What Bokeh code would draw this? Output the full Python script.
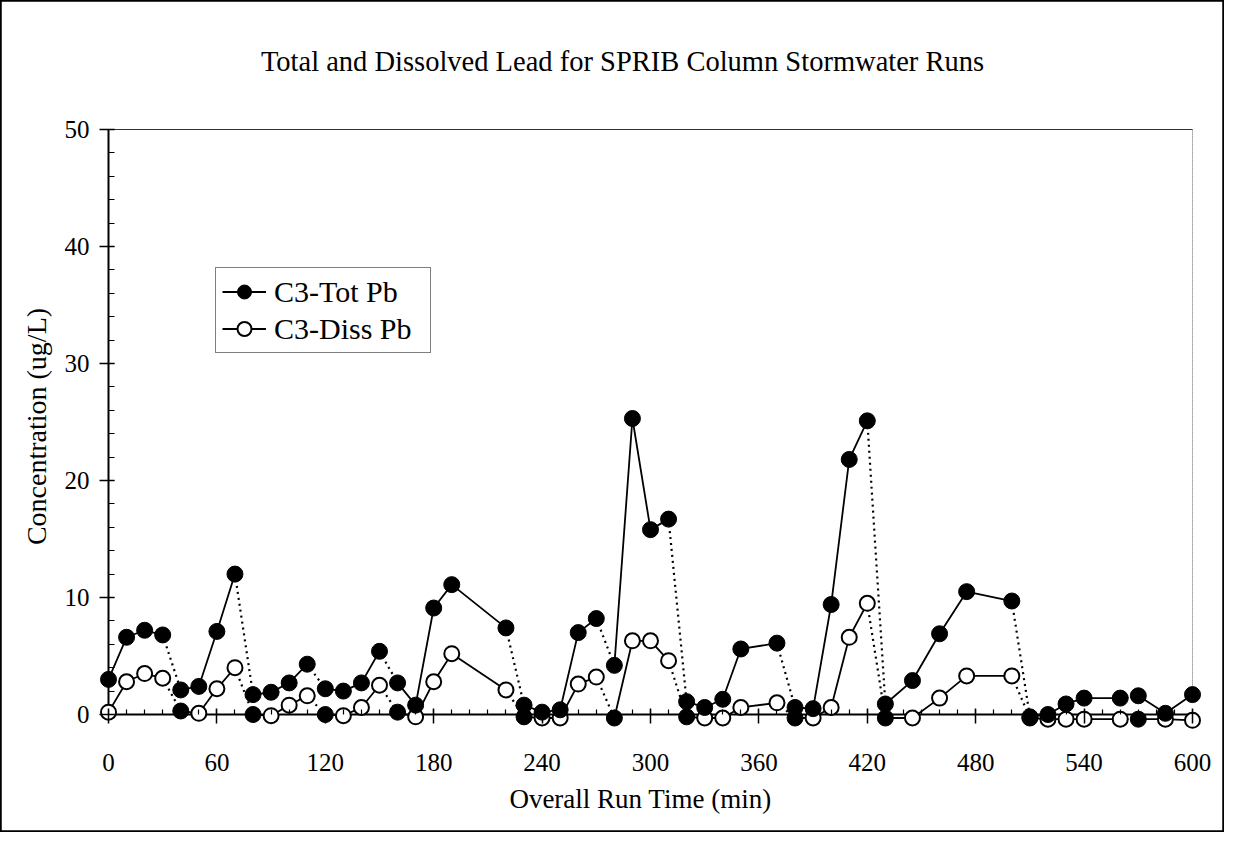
import math
from bokeh.plotting import figure
from bokeh.models import Range1d, FixedTicker, Label, Legend, LegendItem
from bokeh.embed import file_html
from bokeh.resources import INLINE

# ---------------- data ----------------
time_min = [0, 10, 20, 30,
            40, 50, 60, 70,
            80, 90, 100, 110,
            120, 130, 140, 150,
            160, 170, 180, 190, 220,
            230, 240, 250, 260, 270,
            280, 290, 300, 310,
            320, 330, 340, 350, 370,
            380, 390, 400, 410, 420,
            430, 445, 460, 475, 500,
            510, 520, 530, 540, 560,
            570, 585, 600]
run_id = [1] * 4 + [2] * 4 + [3] * 4 + [4] * 4 + [5] * 5 + [6] * 5 + \
         [7] * 4 + [8] * 5 + [9] * 5 + [10] * 5 + [11] * 5 + [12] * 3
tot_pb = [3.0, 6.6, 7.2, 6.8,
          2.1, 2.4, 7.1, 12.0,
          1.7, 1.9, 2.7, 4.3,
          2.2, 2.0, 2.7, 5.4,
          2.7, 0.8, 9.1, 11.1, 7.4,
          0.8, 0.2, 0.4, 7.0, 8.2,
          4.2, 25.3, 15.8, 16.7,
          1.1, 0.6, 1.3, 5.6, 6.1,
          0.6, 0.5, 9.4, 21.8, 25.1,
          0.9, 2.9, 6.9, 10.5, 9.7,
          -0.2, 0.0, 0.9, 1.4, 1.4,
          1.6, 0.1, 1.7]
diss_pb = [0.2, 2.8, 3.5, 3.1,
           0.3, 0.1, 2.2, 4.0,
           0.0, -0.1, 0.8, 1.6,
           0.0, -0.1, 0.6, 2.5,
           0.2, -0.2, 2.8, 5.2, 2.1,
           -0.2, -0.3, -0.3, 2.6, 3.2,
           -0.3, 6.3, 6.3, 4.6,
           -0.2, -0.3, -0.3, 0.6, 1.0,
           -0.3, -0.3, 0.6, 6.6, 9.5,
           -0.3, -0.3, 1.4, 3.3, 3.3,
           -0.3, -0.4, -0.4, -0.4, -0.4,
           -0.4, -0.4, -0.5]
x_ticks = [0, 60, 120, 180, 240, 300, 360, 420, 480, 540, 600]
x_minor = list(range(0, 601, 10))
y_ticks = [0, 10, 20, 30, 40, 50]
y_minor = list(range(0, 51, 2))

title_text = "Total and Dissolved Lead for SPRIB Column Stormwater Runs"
x_title = "Overall Run Time (min)"
y_title = "Concentration (ug/L)"
series_names = ["C3-Tot Pb", "C3-Diss Pb"]

# ---------------- layout ----------------
W, H = 1224, 832
FONT = "Liberation Serif"
x0_px, x1_px = 108.0, 1192.0     # canvas px of x=0 and x=600
y0_px, y1_px = 714.0, 129.0      # canvas px (from top) of y=0 and y=50
sx = (x1_px - x0_px) / (x_ticks[-1] - x_ticks[0])
sy = (y0_px - y1_px) / (y_ticks[-1] - y_ticks[0])
x_start = x_ticks[0] - x0_px / sx
x_end = x_ticks[-1] + (W - x1_px) / sx
y_end = y_ticks[-1] + y1_px / sy
y_start = y_ticks[0] - (H - y0_px) / sy

p = figure(width=W, height=H, x_range=Range1d(x_start, x_end),
           y_range=Range1d(y_start, y_end), output_backend="svg",
           toolbar_location=None, min_border=0)
p.grid.visible = False
p.outline_line_color = "black"
p.outline_line_width = 2.5
p.background_fill_color = "white"
p.border_fill_color = "white"

# axes fixed at zero
xa = p.xaxis[0]
ya = p.yaxis[0]
xa.fixed_location = 0
ya.fixed_location = 0
xa.ticker = FixedTicker(ticks=x_ticks, minor_ticks=x_minor)
ya.ticker = FixedTicker(ticks=y_ticks, minor_ticks=y_minor)
for ax in (xa, ya):
    ax.axis_line_color = None
    ax.major_tick_line_color = "black"
    ax.major_tick_line_width = 1.5
    ax.minor_tick_line_color = "black"
    ax.minor_tick_line_width = 1.2
    ax.major_label_text_font = FONT
    ax.major_label_text_font_size = "25px"
    ax.major_label_text_color = "black"
xa.major_tick_in = 6
xa.major_tick_out = 9
xa.minor_tick_in = 5
xa.minor_tick_out = 0
xa.major_label_standoff = 30
ya.major_tick_in = 6
ya.major_tick_out = 9
ya.minor_tick_in = 6
ya.minor_tick_out = 0
ya.major_label_standoff = 10

# axis lines / plot-area borders
p.segment(x0=[x_ticks[0]], y0=[y_ticks[0]], x1=[x_ticks[-1]], y1=[y_ticks[0]],
          line_color="black", line_width=2)
p.segment(x0=[x_ticks[0]], y0=[y_ticks[0] - 0.3], x1=[x_ticks[0]], y1=[y_ticks[-1]],
          line_color="black", line_width=2)
p.segment(x0=[x_ticks[0]], y0=[y_ticks[-1]], x1=[x_ticks[-1]], y1=[y_ticks[-1]],
          line_color="#333333", line_width=1)
p.segment(x0=[x_ticks[-1]], y0=[tot_pb[-1]], x1=[x_ticks[-1]], y1=[y_ticks[-1]],
          line_color="#666666", line_width=1, line_dash="1 1")

# ---------------- series ----------------
runs = []
for i, r in enumerate(run_id):
    if not runs or runs[-1][0] != r:
        runs.append((r, []))
    runs[-1][1].append(i)

def solid(vals):
    return [[time_min[i] for i in idx] for _, idx in runs], [[vals[i] for i in idx] for _, idx in runs]

def dotted(vals):
    xs, ys = [], []
    for (_, a), (_, b) in zip(runs[:-1], runs[1:]):
        xs.append([time_min[a[-1]], time_min[b[0]]])
        ys.append([vals[a[-1]], vals[b[0]]])
    return xs, ys

for vals in (tot_pb, diss_pb):
    dx, dy = dotted(vals)
    p.multi_line(dx, dy, line_color="black", line_width=2.2, line_dash="2 4")

sxs, sys_ = solid(diss_pb)
diss_line = p.multi_line(sxs, sys_, line_color="black", line_width=1.8)
sxs, sys_ = solid(tot_pb)
tot_line = p.multi_line(sxs, sys_, line_color="black", line_width=1.8)

starts = set(idx[0] for _, idx in runs[1:])
hx = [time_min[i] for i in range(len(time_min)) if i not in starts]
hy = [diss_pb[i] for i in range(len(time_min)) if i not in starts]
fx = [time_min[i] for i in sorted(starts)]
fy = [diss_pb[i] for i in sorted(starts)]

diss_hollow = p.scatter(hx, hy, marker="circle", size=15, fill_color="white",
                        line_color="black", line_width=2)
p.scatter(fx, fy, marker="circle", size=16, fill_color="black", line_color="black")
tot_pts = p.scatter(time_min, tot_pb, marker="circle", size=16, fill_color="black",
                    line_color="black")

legend = Legend(items=[LegendItem(label=series_names[0], renderers=[tot_line, tot_pts]),
                       LegendItem(label=series_names[1], renderers=[diss_line, diss_hollow])],
                location=(215, 479))
legend.label_text_font = FONT
legend.label_text_font_size = "30px"
legend.label_text_color = "black"
legend.border_line_color = "black"
legend.border_line_width = 1.2
legend.background_fill_color = "white"
legend.background_fill_alpha = 1.0
legend.padding = 6
legend.spacing = 2
legend.margin = 0
legend.glyph_width = 44
legend.glyph_height = 35
legend.label_standoff = 8
legend.label_height = 35
legend.label_width = 150
p.add_layout(legend, "center")

# ---------------- texts ----------------
p.add_layout(Label(x=622, y=H - 61, x_units="screen", y_units="screen", text=title_text,
                   text_font=FONT, text_font_size="28.5px", text_align="center",
                   text_baseline="middle", text_color="black"))
p.add_layout(Label(x=36, y=H - 426, x_units="screen", y_units="screen", text=y_title,
                   text_font=FONT, text_font_size="28px", text_align="center",
                   text_baseline="middle", angle=math.pi / 2, text_color="black"))
p.add_layout(Label(x=640, y=H - 798, x_units="screen", y_units="screen", text=x_title,
                   text_font=FONT, text_font_size="27px", text_align="center",
                   text_baseline="middle", text_color="black"))

open("out.html", "w").write(file_html(p, INLINE))
